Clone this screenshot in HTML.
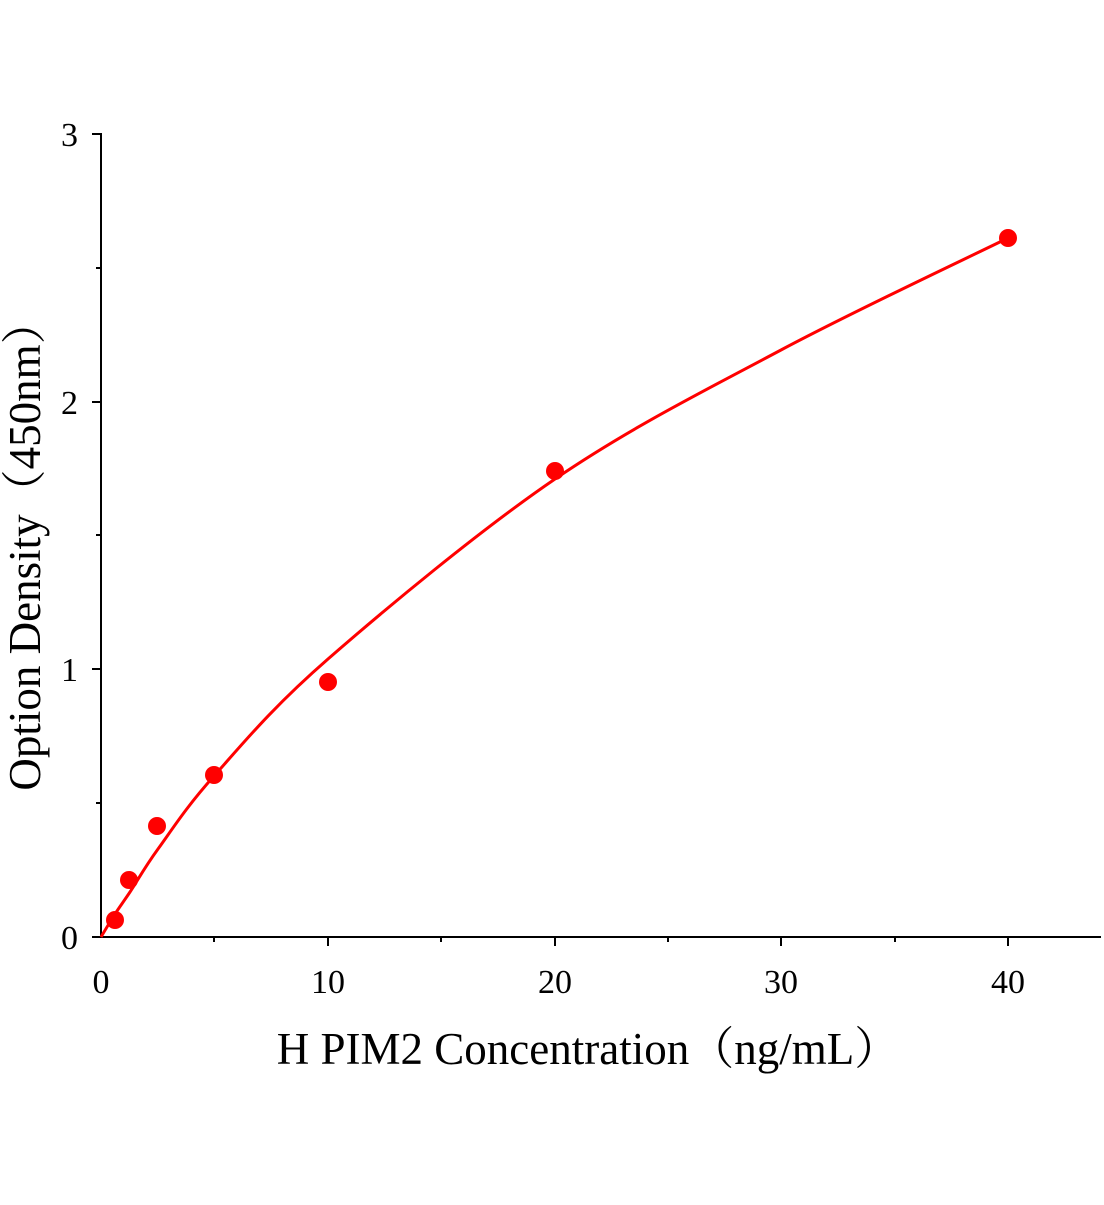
<!DOCTYPE html>
<html><head><meta charset="utf-8"><style>
html,body{margin:0;padding:0;background:#fff}
svg text{font-family:"Liberation Serif","Noto Serif CJK SC",serif;fill:#000}
</style></head><body>
<svg width="1104" height="1200" xmlns="http://www.w3.org/2000/svg">
<g stroke="#000" stroke-width="2" fill="none">
<line x1="101" y1="133" x2="101" y2="938"/>
<line x1="100" y1="937" x2="1101" y2="937"/>
<line x1="92" y1="134" x2="101" y2="134"/>
<line x1="92" y1="402" x2="101" y2="402"/>
<line x1="92" y1="669" x2="101" y2="669"/>
<line x1="92" y1="937" x2="101" y2="937"/>
<line x1="96" y1="268" x2="101" y2="268"/>
<line x1="96" y1="535" x2="101" y2="535"/>
<line x1="96" y1="803" x2="101" y2="803"/>
<line x1="328" y1="937" x2="328" y2="946"/>
<line x1="555" y1="937" x2="555" y2="946"/>
<line x1="781" y1="937" x2="781" y2="946"/>
<line x1="1008" y1="937" x2="1008" y2="946"/>
<line x1="214" y1="937" x2="214" y2="942"/>
<line x1="441" y1="937" x2="441" y2="942"/>
<line x1="668" y1="937" x2="668" y2="942"/>
<line x1="895" y1="937" x2="895" y2="942"/>
</g>
<g font-size="34" text-anchor="end">
<text x="78" y="146">3</text>
<text x="78" y="414">2</text>
<text x="78" y="681">1</text>
<text x="78" y="949">0</text>
</g>
<g font-size="34" text-anchor="middle">
<text x="101" y="993">0</text>
<text x="328" y="993">10</text>
<text x="555" y="993">20</text>
<text x="781" y="993">30</text>
<text x="1008" y="993">40</text>
</g>
<text x="588" y="1064" font-size="45" text-anchor="middle">H PIM2 Concentration（ng/mL）</text>
<text transform="translate(40,545) rotate(-90)" font-size="45" text-anchor="middle">Option Density（450nm）</text>
<path stroke="#f00" stroke-width="3" fill="none" d="M101,937 C103.3,933.2 110.2,921.5 115,914 C119.8,906.5 122.8,902.8 130,892 C137.2,881.2 144,868.3 158,849 C172,829.7 185.7,807.7 214,776 C242.3,744.3 271.2,708.5 328,659 C384.8,609.5 479.5,530.5 555,479 C630.5,427.5 705.5,390.2 781,350 C856.5,309.8 970.2,256.7 1008,238"/>
<g fill="#f00">
<circle cx="115" cy="920" r="9"/>
<circle cx="129" cy="880" r="9"/>
<circle cx="157" cy="826" r="9"/>
<circle cx="214" cy="775" r="9"/>
<circle cx="328" cy="682" r="9"/>
<circle cx="555" cy="471" r="9"/>
<circle cx="1008" cy="238" r="9"/>
</g>
</svg>
</body></html>
